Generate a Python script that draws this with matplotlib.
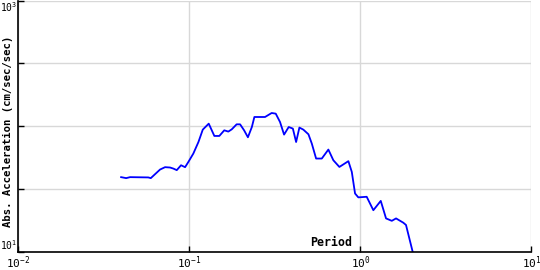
import matplotlib
matplotlib.use('Agg')
from matplotlib import pyplot as plt

# spectrum (period in s, acceleration in cm/sec/sec)
period = [0.0399, 0.0427, 0.045, 0.0575, 0.0595, 0.063, 0.0674, 0.0721, 0.0771,
          0.0806, 0.0844, 0.0894, 0.0944, 0.0987, 0.1055, 0.113, 0.1198, 0.1298,
          0.140, 0.1497, 0.160, 0.169, 0.177, 0.189, 0.198, 0.209, 0.220, 0.232,
          0.240, 0.277, 0.303, 0.320, 0.339, 0.358, 0.381, 0.403, 0.421, 0.440,
          0.464, 0.497, 0.520, 0.551, 0.595, 0.650, 0.695, 0.754, 0.851, 0.891,
          0.931, 0.973, 1.089, 1.191, 1.316, 1.413, 1.527, 1.617, 1.783, 1.849,
          2.024, 2.15]
accel = [39.4, 38.7, 39.4, 39.2, 38.7, 41.6, 45.3, 47.3, 47.0,
         46.1, 44.8, 49.0, 47.3, 52.1, 60.7, 75.0, 94.1, 105.0,
         83.8, 83.8, 92.9, 90.8, 94.6, 103.7, 103.7, 92.9, 81.8, 98.7,
         118.6, 118.6, 127.6, 126.1, 108.2, 85.9, 98.7, 95.9, 75.0, 97.7,
         94.1, 86.4, 72.9, 55.4, 55.4, 65.3, 53.7, 47.5, 52.8, 43.4,
         29.2, 27.2, 27.5, 21.5, 25.5, 18.5, 17.7, 18.5, 17.1, 16.4,
         10.0, 8.5]

xticks = [0.01, 0.1, 1, 10]
xlabels = [r'$10^{-2}$', r'$10^{-1}$', r'$10^{0}$', r'$10^{1}$']
yticks = [10, 31.62, 100, 316.2, 1000]
ylabels = [r'$10^{1}$', '', '', '', r'$10^{3}$']

plt.rcParams['font.family'] = ['DejaVu Sans Mono']
plt.rcParams['mathtext.fontset'] = 'custom'
plt.rcParams['mathtext.rm'] = 'DejaVu Sans Mono'
plt.rcParams['mathtext.it'] = 'DejaVu Sans Mono'

fig = plt.figure(figsize=(5.4, 2.7), dpi=100)
ax = fig.add_axes([0.034, 0.0667, 0.95, 0.931])

ax.plot(period, accel, color='#0000ff', linewidth=1.3)

ax.set_xscale('log')
ax.set_yscale('log')
ax.set_xlim(0.01, 10)
ax.set_ylim(10, 1000)

ax.set_xticks(xticks, xlabels)
ax.set_yticks(yticks, ylabels)
ax.minorticks_off()
ax.tick_params(direction='in', length=4, width=1, color='black', labelsize=8, pad=2)
ax.tick_params(axis='y', pad=1, labelsize=7)

# y labels sit inside the range: bottom one above its tick, top one below
tl = ax.get_yticklabels()
tl[0].set_verticalalignment('bottom')
tl[-1].set_verticalalignment('top')

ax.grid(True, color='#d8d8d8', linewidth=1)
ax.set_axisbelow(True)
for s in ['top', 'right']:
    ax.spines[s].set_visible(False)
for s in ['left', 'bottom']:
    ax.spines[s].set_linewidth(1.2)

fig.text(0.014, 0.513, 'Abs. Acceleration (cm/sec/sec)', rotation=90,
         ha='center', va='center', fontsize=7.7, fontweight='bold')
fig.text(352 / 540, 24 / 270, 'Period', ha='right', va='baseline',
         fontsize=8.4, fontweight='bold')

fig.savefig('out.png', dpi=100)
